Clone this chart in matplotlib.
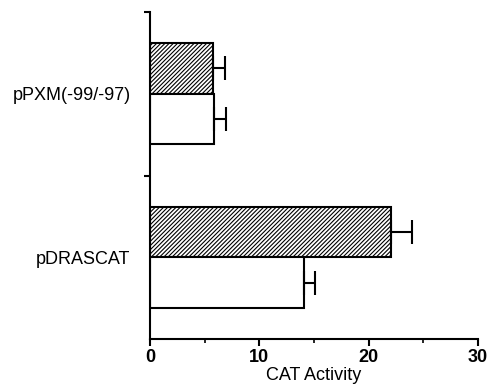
import matplotlib
matplotlib.use('Agg')
import matplotlib.pyplot as plt

# constructs, bottom to top
constructs = ['pDRASCAT', 'pPXM(-99/-97)']
hatched_vals = [22.0, 5.8]
hatched_err = [2.0, 1.1]
open_vals = [14.1, 5.9]
open_err = [1.0, 1.1]

plt.rcParams['font.family'] = ['Liberation Sans', 'DejaVu Sans']
plt.rcParams['hatch.linewidth'] = 0.8

fig = plt.figure(figsize=(4.9, 3.87), dpi=100)
ax = fig.add_axes([0.306, 0.124, 0.6695, 0.845])

centers = [0.5, 1.5]
h = 0.31
err_kw = dict(ecolor='black', elinewidth=1.5, capsize=8.5, capthick=1.5)

ax.barh([c + h / 2 for c in centers], hatched_vals, height=h,
        xerr=[[0, 0], hatched_err], color='white', edgecolor='black',
        hatch='////////', linewidth=1.5, error_kw=err_kw)
ax.barh([c - h / 2 for c in centers], open_vals, height=h,
        xerr=[[0, 0], open_err], color='white', edgecolor='black',
        linewidth=1.5, error_kw=err_kw)

ax.set_xlim(0, 30)
ax.set_ylim(0, 2)
ax.spines['top'].set_visible(False)
ax.spines['right'].set_visible(False)
ax.spines['left'].set_linewidth(1.5)
ax.spines['bottom'].set_linewidth(1.5)

ax.set_xticks([0, 10, 20, 30])
ax.set_xticks([5, 15, 25], minor=True)
ax.tick_params(axis='x', which='major', length=5, width=1.5, labelsize=13, pad=2)
ax.tick_params(axis='x', which='minor', length=3, width=1.2)
for lab in ax.get_xticklabels():
    lab.set_fontweight('bold')

ax.set_yticks(centers)
ax.set_yticklabels(constructs, fontsize=13)
ax.set_yticks([1, 2], minor=True)
ax.tick_params(axis='y', which='major', length=0, pad=14)
ax.tick_params(axis='y', which='minor', length=4, width=1.5)

ax.set_xlabel('CAT Activity', fontsize=13, labelpad=1)

fig.savefig('out.png', dpi=100)
